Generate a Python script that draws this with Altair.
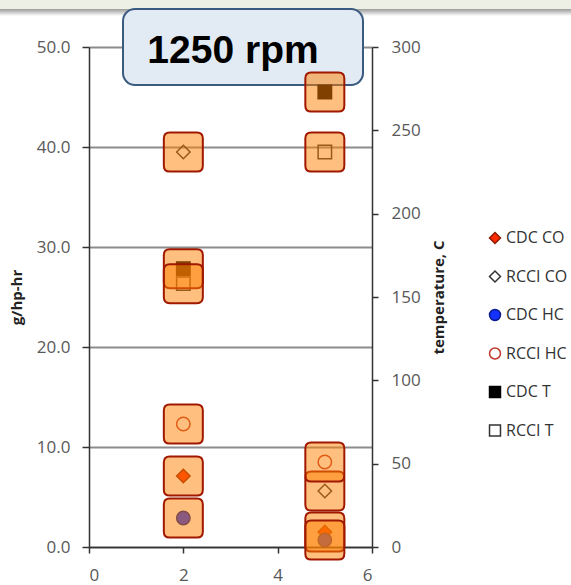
import altair as alt
import pandas as pd

# Operating points (x) and measured values at 1250 rpm
x_pos = [2, 5]
series_names = ["CDC CO", "RCCI CO", "CDC HC", "RCCI HC", "CDC T", "RCCI T"]
cdc_co = [7.1, 1.5]
rcci_co = [39.5, 5.6]
cdc_hc = [2.9, 0.7]
rcci_hc = [12.3, 8.5]
cdc_t = [167, 273]     # temperature, C
rcci_t = [158, 237]    # temperature, C
title_text = ["1250 rpm"]

shapes = ["diamond", "diamond", "circle", "circle", "square", "square"]
fills = ["#ff2a00", "transparent", "#1432ff", "transparent", "#000000", "transparent"]
strokes = ["#8b1a00", "#333333", "#0a1a90", "#c0392b", "#000000", "#333333"]

emis = pd.DataFrame({
    "x": x_pos * 4,
    "value": cdc_co + rcci_co + cdc_hc + rcci_hc,
    "series": ["CDC CO"] * 2 + ["RCCI CO"] * 2 + ["CDC HC"] * 2 + ["RCCI HC"] * 2,
})
temps = pd.DataFrame({
    "x": x_pos * 2,
    "value": cdc_t + rcci_t,
    "series": ["CDC T"] * 2 + ["RCCI T"] * 2,
})
label_df = pd.DataFrame({"label": title_text})

FONT = "Open Sans"
LABEL_COLOR = "#595959"
LABEL_SIZE = 17

# rounded-square highlight symbol in the unit box [-1, 1]
BOX = ("M-0.7,-1L0.7,-1Q1,-1,1,-0.7L1,0.7Q1,1,0.7,1L-0.7,1"
       "Q-1,1,-1,0.7L-1,-0.7Q-1,-1,-0.7,-1Z")

x_enc = alt.X(
    "x:Q",
    scale=alt.Scale(domain=[0, 6], nice=False),
    axis=alt.Axis(values=[0, 2, 4, 6], grid=False, title=None, tickSize=6,
                  tickColor="#333333", tickWidth=1.5, domainColor="#333333",
                  domainWidth=1.5, labelFont=FONT, labelFontSize=LABEL_SIZE,
                  labelColor=LABEL_COLOR, labelPadding=14),
)

y_left_scale = alt.Scale(domain=[0, 50], nice=False)
y_right_scale = alt.Scale(domain=[0, 300], nice=False)

legend = alt.Legend(title=None, orient="none", legendX=398, legendY=183,
                    labelFont=FONT, labelFontSize=16, labelColor="#333333",
                    symbolSize=120, symbolStrokeWidth=1.5, rowPadding=20.5,
                    labelOffset=3, padding=0)

shape_enc = alt.Shape("series:N", scale=alt.Scale(domain=series_names, range=shapes), legend=legend)
fill_enc = alt.Fill("series:N", scale=alt.Scale(domain=series_names, range=fills), legend=legend)
stroke_enc = alt.Stroke("series:N", scale=alt.Scale(domain=series_names, range=strokes), legend=legend)

emis_points = alt.Chart(emis).mark_point(filled=True, size=180, strokeWidth=1.5, opacity=1).encode(
    x=x_enc,
    y=alt.Y("value:Q", scale=y_left_scale,
            axis=alt.Axis(orient="left", values=[0, 10, 20, 30, 40, 50], format=".1f",
                          grid=True, gridColor="#8c8c8c", gridWidth=2,
                          domainColor="#333333", domainWidth=1.5,
                          tickColor="#333333", tickWidth=1.5, tickSize=7,
                          labelFont=FONT, labelFontSize=LABEL_SIZE, labelColor=LABEL_COLOR,
                          labelPadding=12, title="g/hp-hr", titleFont=FONT,
                          titleFontSize=15, titleFontWeight="bold", titleColor="#222222",
                          titlePadding=12)),
    shape=shape_enc, fill=fill_enc, stroke=stroke_enc,
)

temp_points = alt.Chart(temps).mark_point(filled=True, size=180, strokeWidth=1.5, opacity=1).encode(
    x=x_enc,
    y=alt.Y("value:Q", scale=y_right_scale,
            axis=alt.Axis(orient="right", values=[0, 50, 100, 150, 200, 250, 300],
                          format="d", grid=False, domainColor="#333333", domainWidth=1.5,
                          tickColor="#333333", tickWidth=1.5, tickSize=6,
                          labelFont=FONT, labelFontSize=LABEL_SIZE, labelColor=LABEL_COLOR,
                          labelPadding=13, title="temperature, C", titleFont=FONT,
                          titleFontSize=15, titleFontWeight="bold", titleColor="#222222",
                          titleAngle=270, titleBaseline="top", titlePadding=11)),
    shape=shape_enc, fill=fill_enc, stroke=stroke_enc,
)

box_style = dict(shape=BOX, filled=True, size=1521, fill="#ff8000", fillOpacity=0.5,
                 stroke="#a01800", strokeOpacity=1, strokeWidth=2)

emis_boxes = alt.Chart(emis).mark_point(**box_style).encode(
    x=x_enc, y=alt.Y("value:Q", scale=y_left_scale, axis=None))
temp_boxes = alt.Chart(temps).mark_point(**box_style).encode(
    x=x_enc, y=alt.Y("value:Q", scale=y_right_scale, axis=None))

# header band along the top edge, with a soft shadow under it
band = alt.Chart(label_df).mark_rect(fill="#edf1e5").encode(
    x=alt.value(-89), x2=alt.value(482), y=alt.value(-47), y2=alt.value(-38))
shadow = alt.Chart(label_df).mark_rect(
    fill=alt.Gradient(gradient="linear", x1=0, y1=0, x2=0, y2=1,
                      stops=[alt.GradientStop(color="#9a9a9a", offset=0),
                             alt.GradientStop(color="#ffffff", offset=1)])
).encode(x=alt.value(-89), x2=alt.value(482), y=alt.value(-38), y2=alt.value(-31))

title_box = alt.Chart(label_df).mark_rect(
    fill="#e2eaf4", stroke="#3a5a80", strokeWidth=2, cornerRadius=12
).encode(x=alt.value(34), x2=alt.value(274), y=alt.value(-38), y2=alt.value(38))

title_label = alt.Chart(label_df).mark_text(
    font="Liberation Sans", fontSize=39, fontWeight="bold", color="#000000",
    align="center", baseline="alphabetic"
).encode(x=alt.value(144), y=alt.value(16), text="label:N")

chart = alt.layer(
    band, shadow, title_box, title_label,
    emis_points, temp_points, emis_boxes, temp_boxes,
).resolve_scale(y="independent").properties(
    width=283, height=500,
    autosize=alt.AutoSizeParams(type="none"),
    padding={"left": 89, "top": 47, "right": 199, "bottom": 38},
    background="#ffffff",
).configure_view(stroke=None)

chart.save("out.html", embed_options={"renderer": "svg", "actions": False})
